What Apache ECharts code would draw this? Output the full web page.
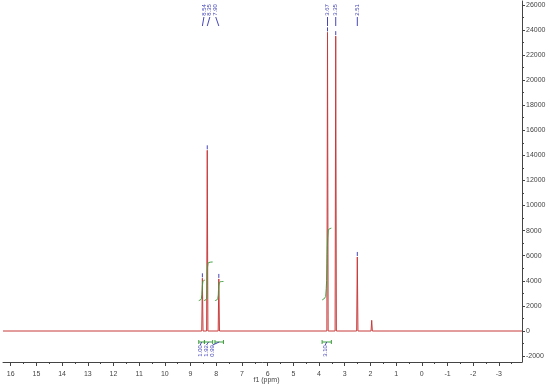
<!DOCTYPE html>
<html>
<head>
<meta charset="utf-8">
<script src="https://cdn.jsdelivr.net/npm/echarts@6.0.0/dist/echarts.min.js"></script>
<style>
  html, body { margin: 0; padding: 0; background: #fff; }
  #nmr { width: 550px; height: 385px; }
</style>
</head>
<body>
<div id="nmr"></div>
<script>
// peaks (ppm, intensity)
const peakPpm = [8.54, 8.35, 7.90, 3.67, 3.35, 2.51, 1.95, 1.25]
const peakHeight = [4200, 14400, 4150, 23800, 23500, 5900, 850, 100]
const peakLabelled = [true, true, true, true, true, true, false, false]
// where the rotated peak labels sit (ppm), labels are spread for the crowded group
const peakLabelAt = [8.48, 8.25, 8.02, 3.67, 3.35, 2.51, 0, 0]

// integrals
const integralValue = [1.00, 1.92, 0.99, 3.10]
const integralFrom = [8.68, 8.46, 8.05, 3.88]
const integralTo = [8.46, 8.14, 7.72, 3.52]
const integralLabelAt = [8.62, 8.38, 8.14, 3.76]
const integralCurves = [
  [[8.68, 2420], [8.58, 2560], [8.52, 3950], [8.44, 4060]],
  [[8.48, 2420], [8.38, 2560], [8.32, 5400], [8.14, 5500]],
  [[8.05, 2420], [7.94, 2560], [7.88, 3870], [7.72, 3950]],
  [[3.88, 2470], [3.74, 2750], [3.64, 8050], [3.52, 8200]]
]

const xTicks = [16, 15, 14, 13, 12, 11, 10, 9, 8, 7, 6, 5, 4, 3, 2, 1, 0, -1, -2, -3]
const xMinorTicks = [15.5, 14.5, 13.5, 12.5, 11.5, 10.5, 9.5, 8.5, 7.5, 6.5, 5.5, 4.5, 3.5, 2.5, 1.5, 0.5, -0.5, -1.5, -2.5, -3.5]
const yTicks = [-2000, 0, 2000, 4000, 6000, 8000, 10000, 12000, 14000, 16000, 18000, 20000, 22000, 24000, 26000]
const yMinorTicks = [-1000, 1000, 3000, 5000, 7000, 9000, 11000, 13000, 15000, 17000, 19000, 21000, 23000, 25000]

const X_MIN = -3.9
const X_MAX = 16.3
const Y_MIN = -2470
const Y_MAX = 26300

const RED = '#c83a3a'
const BLUE = '#4646b8'
const GREEN = '#3c9e3c'
const AXIS = '#444'
const FONT = 'Liberation Sans'

// spectrum as narrow spikes on a flat baseline
function buildSpectrum() {
  const w = 0.025
  const pts = [[X_MAX, 0]]
  const order = peakPpm.map((p, i) => i).sort((a, b) => peakPpm[b] - peakPpm[a])
  order.forEach(i => {
    pts.push([peakPpm[i] + w, 0])
    pts.push([peakPpm[i], peakHeight[i]])
    pts.push([peakPpm[i] - w, 0])
  })
  pts.push([X_MIN, 0])
  return pts
}

const chart = echarts.init(document.getElementById('nmr'))

function peakLabels(params, api) {
  const i = api.value(2)
  if (!peakLabelled[i]) return null
  const top = api.coord([api.value(0), api.value(1)])
  const lx = api.coord([peakLabelAt[i], 0])[0]
  const gy = params.coordSys.y
  return {
    type: 'group',
    children: [
      {
        type: 'text', x: lx, y: gy + 9, rotation: Math.PI / 2,
        style: { text: peakPpm[i].toFixed(2), fill: BLUE, font: '6px ' + FONT, align: 'center', verticalAlign: 'middle' }
      },
      {
        type: 'polyline',
        shape: { points: [[lx, gy + 16], [top[0], gy + 25]] },
        style: { stroke: BLUE, lineWidth: 1, fill: null }
      },
      {
        type: 'line',
        shape: { x1: top[0], y1: top[1] - 1, x2: top[0], y2: top[1] - 5 },
        style: { stroke: BLUE, lineWidth: 1 }
      }
    ]
  }
}

function integralLabels(params, api) {
  const i = api.value(0)
  const base = api.coord([0, 0])[1]
  const x1 = api.coord([integralFrom[i], 0])[0]
  const x2 = api.coord([integralTo[i], 0])[0]
  const lx = api.coord([integralLabelAt[i], 0])[0]
  const by = base + 11
  return {
    type: 'group',
    children: [
      { type: 'line', shape: { x1: x1, y1: by, x2: x2, y2: by }, style: { stroke: GREEN, lineWidth: 1 } },
      { type: 'line', shape: { x1: x1, y1: by - 2, x2: x1, y2: by + 2 }, style: { stroke: GREEN, lineWidth: 1 } },
      { type: 'line', shape: { x1: x2, y1: by - 2, x2: x2, y2: by + 2 }, style: { stroke: GREEN, lineWidth: 1 } },
      { type: 'line', shape: { x1: (x1 + x2) / 2, y1: by, x2: lx, y2: by + 3 }, style: { stroke: BLUE, lineWidth: 1 } },
      {
        type: 'text', x: lx, y: base + 20, rotation: Math.PI / 2,
        style: { text: integralValue[i].toFixed(2), fill: BLUE, font: '6px ' + FONT, align: 'center', verticalAlign: 'middle' }
      }
    ]
  }
}

const series = [
  {
    name: 'spectrum',
    type: 'line',
    data: buildSpectrum(),
    symbol: 'none',
    lineStyle: { color: RED, width: 1 },
    animation: false,
    z: 3
  },
  {
    type: 'custom',
    renderItem: peakLabels,
    data: peakPpm.map((p, i) => [p, peakHeight[i], i]),
    animation: false,
    z: 4
  },
  {
    type: 'custom',
    renderItem: integralLabels,
    data: integralValue.map((v, i) => [i]),
    encode: { x: -1, y: -1 },
    animation: false,
    z: 4
  }
]
integralCurves.forEach(c => {
  series.push({
    type: 'line',
    data: c,
    symbol: 'none',
    smooth: 0.3,
    lineStyle: { color: GREEN, width: 1 },
    animation: false,
    z: 5
  })
})

chart.setOption({
  animation: false,
  grid: { left: 3, right: 28, top: 1, bottom: 23, outerBoundsMode: 'none', containLabel: false },
  xAxis: [
    {
      type: 'value',
      inverse: true,
      min: X_MIN,
      max: X_MAX,
      name: 'f1 (ppm)',
      nameLocation: 'middle',
      nameGap: 15,
      nameMoveOverlap: false,
      nameTextStyle: { color: AXIS, fontSize: 7, fontFamily: FONT, padding: [0, 0, 0, 8] },
      splitLine: { show: false },
      axisLine: { onZero: false, lineStyle: { color: AXIS, width: 1 } },
      axisTick: { customValues: xTicks, inside: false, length: 4, lineStyle: { color: AXIS } },
      axisLabel: { customValues: xTicks, color: AXIS, fontSize: 7, fontFamily: FONT, margin: 9 }
    },
    {
      type: 'value',
      inverse: true,
      min: X_MIN,
      max: X_MAX,
      position: 'bottom',
      offset: 0,
      splitLine: { show: false },
      axisLine: { show: false, onZero: false },
      axisTick: { customValues: xMinorTicks, length: 2, lineStyle: { color: AXIS } },
      axisLabel: { show: false }
    }
  ],
  yAxis: [
    {
      type: 'value',
      position: 'right',
      min: Y_MIN,
      max: Y_MAX,
      splitLine: { show: false },
      axisLine: { show: true, onZero: false, lineStyle: { color: AXIS, width: 1 } },
      axisTick: { customValues: yTicks, length: 3, lineStyle: { color: AXIS } },
      axisLabel: { customValues: yTicks, color: AXIS, fontSize: 7, fontFamily: FONT, margin: 4, formatter: v => String(v) }
    },
    {
      type: 'value',
      position: 'right',
      offset: 0,
      min: Y_MIN,
      max: Y_MAX,
      splitLine: { show: false },
      axisLine: { show: false, onZero: false },
      axisTick: { customValues: yMinorTicks, length: 2, lineStyle: { color: AXIS } },
      axisLabel: { show: false }
    }
  ],
  series: series
})
</script>
</body>
</html>
